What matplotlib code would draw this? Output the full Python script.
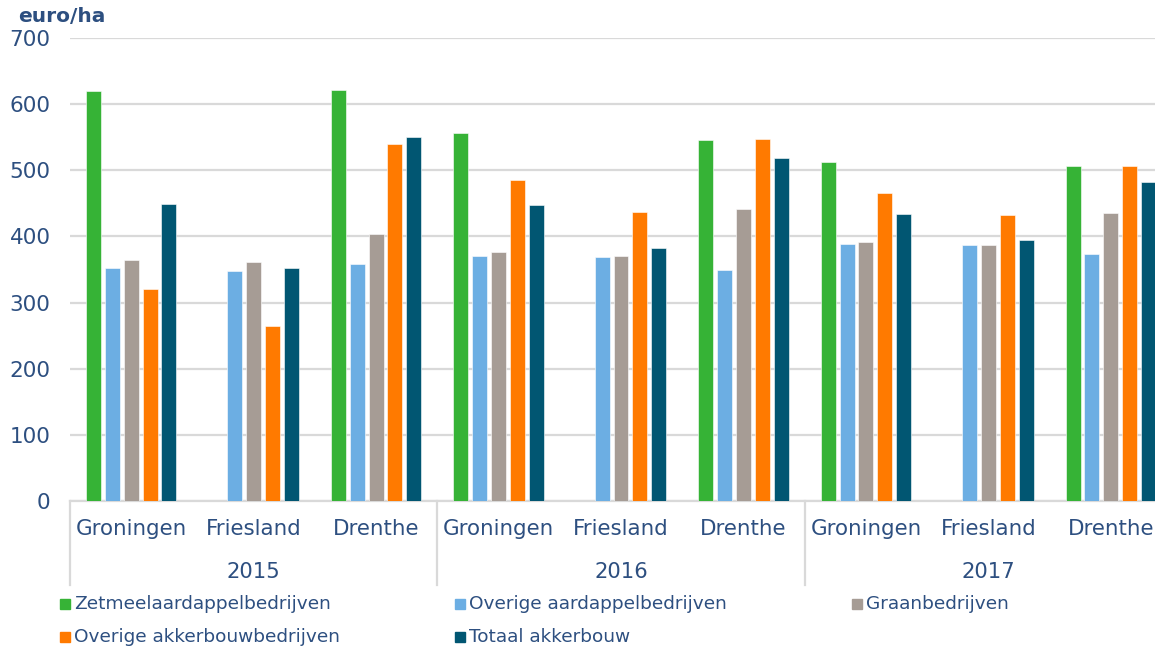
import numpy as np
import matplotlib.pyplot as plt
from matplotlib.patches import Rectangle

# categories
years = ["2015", "2016", "2017"]
provinces = ["Groningen", "Friesland", "Drenthe"]
categories = provinces * len(years)

series_names = [
    "Zetmeelaardappelbedrijven",
    "Overige aardappelbedrijven",
    "Graanbedrijven",
    "Overige akkerbouwbedrijven",
    "Totaal akkerbouw",
]

# euro/ha, per category (Groningen, Friesland, Drenthe) x (2015, 2016, 2017)
zetmeel = [620, np.nan, 622, 556, np.nan, 546, 512, np.nan, 506]
overige_aardappel = [353, 347, 359, 371, 369, 349, 388, 387, 374]
graan = [365, 361, 403, 376, 370, 442, 392, 387, 436]
overige_akkerbouw = [321, 265, 540, 486, 437, 548, 465, 433, 507]
totaal = [449, 353, 550, 447, 382, 519, 434, 394, 482]

values = [zetmeel, overige_aardappel, graan, overige_akkerbouw, totaal]
colors = ["#36B336", "#6CAEE3", "#A69C95", "#FF7A00", "#015672"]

TXT = "#2D4F80"
GRID = "#D9D9D9"

W, H = 1155, 647
fig = plt.figure(figsize=(W / 100, H / 100), dpi=100)
ax = fig.add_axes([70 / W, (H - 501) / H, (1172 - 70) / W, (501 - 38) / H])

x = np.arange(len(categories))
step, width = 0.154, 0.122
for i, (vals, col) in enumerate(zip(values, colors)):
    ax.bar(x + (i - 2) * step, vals, width=width, color=col,
           edgecolor="white", linewidth=0.4, zorder=3)

ax.set_xlim(-0.5, len(categories) - 0.5)
ax.set_ylim(0, 700)
ax.set_yticks(range(0, 701, 100))
ax.yaxis.grid(True, color=GRID, linewidth=1.6, zorder=0)
ax.set_axisbelow(True)
for s in ["top", "right", "left"]:
    ax.spines[s].set_visible(False)
ax.spines["bottom"].set_color(GRID)
ax.spines["bottom"].set_linewidth(1.6)

ax.tick_params(axis="y", length=0, pad=14, labelsize=15.5, labelcolor=TXT)
ax.set_xticks(x)
ax.set_xticklabels(categories)
ax.tick_params(axis="x", length=0, pad=13, labelsize=15.4, labelcolor=TXT)

# year labels and group separators
tr = ax.get_xaxis_transform()
ax_h = 501 - 38
for g, yr in enumerate(years):
    ax.text(g * 3 + 1, -(572 - 501) / ax_h, yr, transform=tr,
            ha="center", va="center", fontsize=15.2, color=TXT)
for b in [-0.5, 2.5, 5.5]:
    ax.plot([b, b], [0, -(585 - 501) / ax_h], transform=tr, color=GRID,
            linewidth=1.6, clip_on=False)

fig.text(18 / W, 1 - 17 / H, "euro/ha", fontsize=14.5, fontweight="bold",
         color=TXT, ha="left", va="center")

# legend, two rows
slots = [(60, 604), (455, 604), (852, 604), (60, 637), (455, 637)]
for (lx, ly), name, col in zip(slots, series_names, colors):
    fig.add_artist(Rectangle((lx / W, 1 - (ly + 5) / H), 10 / W, 10 / H,
                             transform=fig.transFigure, color=col))
    fig.text((lx + 14) / W, 1 - ly / H, name, fontsize=13.3, color=TXT,
             ha="left", va="center")

plt.savefig("out.png", dpi=100)
